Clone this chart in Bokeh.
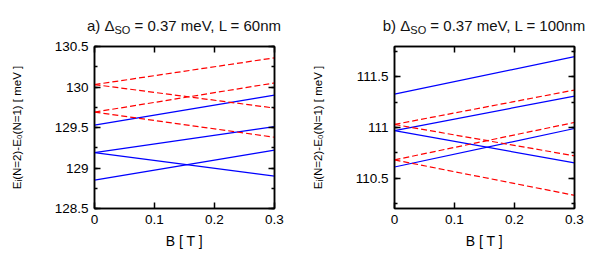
from bokeh.plotting import figure
from bokeh.layouts import row, column
from bokeh.models import (Range1d, LinearAxis, FixedTicker, SingleIntervalTicker,
                          CustomJSTickFormatter, Div)
from bokeh.embed import file_html
from bokeh.resources import INLINE

# ---------------- data ----------------
B = [0.0, 0.3]

# panel a) L = 60 nm
a_blue_start = [129.53, 129.19, 129.19, 128.85]
a_blue_end = [129.90, 129.51, 128.90, 129.22]
a_red_start = [130.03, 130.03, 129.69, 129.69]
a_red_end = [130.36, 129.74, 130.05, 129.38]
a_ylim = (128.5, 130.5)

# panel b) L = 100 nm
b_blue_start = [111.33, 110.97, 110.97, 110.61]
b_blue_end = [111.70, 111.31, 110.65, 110.99]
b_red_start = [111.03, 111.03, 110.68, 110.68]
b_red_end = [111.37, 110.72, 111.05, 110.33]
b_ylim = (110.2, 111.8)

x_lim = (0.0, 0.3)
x_ticks = [0.0, 0.1, 0.2, 0.3]
y_tick_step = 0.5

FONT = "Liberation Sans"
FRAME_W, FRAME_H = 180, 162
TITLE_H = 36
BORDER_T = 46 - TITLE_H
HEIGHT = 253 - TITLE_H


def style_axis(ax, ticker, show_labels):
    ax.ticker = ticker
    ax.formatter = CustomJSTickFormatter(
        code="return String(Math.round(tick*10)/10);" if show_labels else "return '';")
    ax.major_tick_in = 6
    ax.major_tick_out = 0
    ax.minor_tick_in = 3
    ax.minor_tick_out = 0
    ax.major_tick_line_width = 1.5
    ax.minor_tick_line_width = 1.5
    ax.major_tick_line_color = "black"
    ax.minor_tick_line_color = "black"
    ax.axis_line_width = 1.5
    ax.axis_line_color = "black"
    ax.major_label_text_font = FONT
    ax.major_label_text_font_size = "13.5px"
    ax.major_label_text_color = "black"
    ax.major_label_standoff = 6 if show_labels else 0


def make_title(width, border_l, prefix, suffix):
    center = border_l + FRAME_W / 2
    margin = max(0, 2 * center - width)
    inner_w = width - margin
    html = (
        f'<div style="position:relative; top:17.5px; margin:0; margin-left:{margin:.0f}px; '
        f'width:{inner_w:.0f}px; text-align:center; white-space:nowrap; '
        f"font-family:'{FONT}'; font-size:15px; line-height:15px; color:#111;\">"
        f'{prefix}&Delta;<span style="font-size:11px; position:relative; top:3.5px;">SO</span>'
        f' {suffix}</div>'
    )
    return Div(text=html, width=width, height=TITLE_H, margin=0)


def make_panel(width, border_l, ylim, blue_s, blue_e, red_s, red_e):
    p = figure(width=width, height=HEIGHT,
               x_range=Range1d(*x_lim), y_range=Range1d(*ylim),
               output_backend="svg", toolbar_location=None,
               min_border_left=border_l, min_border_top=BORDER_T,
               min_border_right=width - border_l - FRAME_W,
               min_border_bottom=HEIGHT - BORDER_T - FRAME_H)
    p.xgrid.visible = False
    p.ygrid.visible = False
    p.outline_line_color = "black"
    p.outline_line_width = 1.5
    p.outline_line_alpha = 1.0

    xt = FixedTicker(ticks=x_ticks)
    yt = SingleIntervalTicker(interval=y_tick_step, num_minor_ticks=2)
    style_axis(p.xaxis[0], xt, True)
    style_axis(p.yaxis[0], yt, True)
    xa = p.xaxis[0]
    xa.axis_label = "B [ T ]"
    xa.axis_label_text_font = FONT
    xa.axis_label_text_font_size = "14px"
    xa.axis_label_text_font_style = "normal"
    xa.axis_label_text_color = "black"
    xa.axis_label_standoff = 6
    ya = p.yaxis[0]
    ya.axis_label = "E\u1d62(N=2)-E\u2080(N=1) [ meV ]"
    ya.axis_label_text_font = FONT
    ya.axis_label_text_font_size = "11.5px"
    ya.axis_label_text_font_style = "normal"
    ya.axis_label_text_color = "black"
    ya.axis_label_standoff = 29

    top = LinearAxis()
    style_axis(top, xt, False)
    p.add_layout(top, "above")
    right = LinearAxis()
    style_axis(right, yt, False)
    p.add_layout(right, "right")

    p.multi_line(xs=[B] * len(blue_s), ys=[[s, e] for s, e in zip(blue_s, blue_e)],
                 line_color="#0000ff", line_width=1.2)
    p.multi_line(xs=[B] * len(red_s), ys=[[s, e] for s, e in zip(red_s, red_e)],
                 line_color="#ff0000", line_width=1.2, line_dash="6 3")
    return p


pa = make_panel(308, 94, a_ylim, a_blue_start, a_blue_end, a_red_start, a_red_end)
pb = make_panel(289, 86, b_ylim, b_blue_start, b_blue_end, b_red_start, b_red_end)
ta = make_title(308, 94, "a) ", "= 0.37 meV, L = 60nm")
tb = make_title(289, 86, "b) ", "= 0.37 meV, L = 100nm")

layout = row(column(ta, pa, spacing=0), column(tb, pb, spacing=0), spacing=0)
open("out.html", "w").write(file_html(layout, INLINE))
